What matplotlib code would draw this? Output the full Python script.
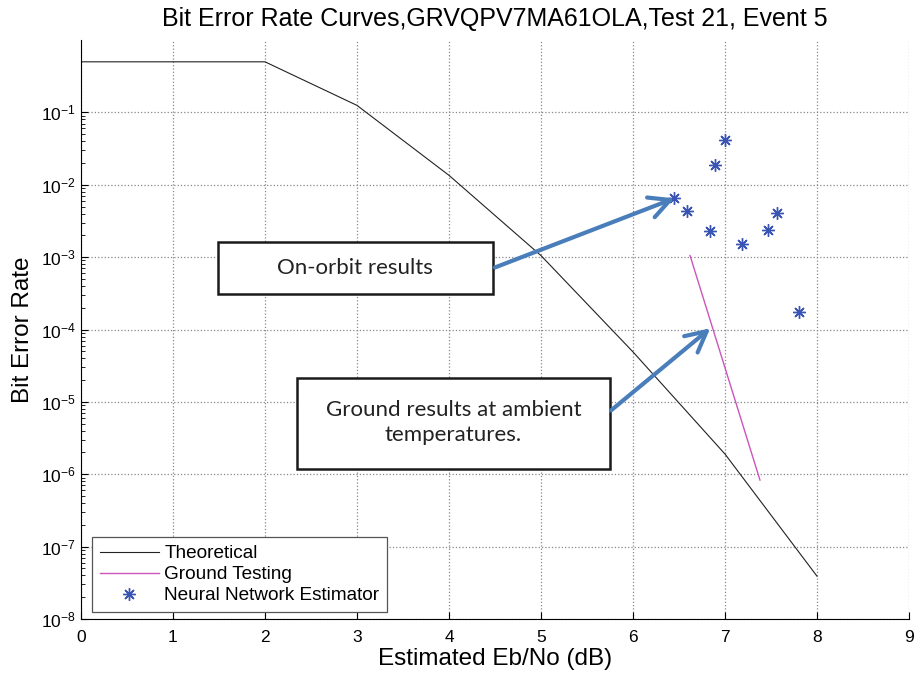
"""Bit error rate curves with on-orbit and ground test annotations."""

import matplotlib

matplotlib.use("Agg")
import matplotlib.pyplot as plt
from matplotlib.patches import Rectangle
from matplotlib.ticker import FixedLocator, NullFormatter

# Theoretical BER curve (piecewise in log space)
theory_ebno = [0, 1, 2, 3, 4, 5, 6, 7, 8]
theory_ber = [0.5, 0.5, 0.5, 0.125, 0.0135, 1.05e-3, 4.9e-5, 1.9e-6, 3.9e-8]

# Ground testing line
ground_ebno = [6.62, 7.38]
ground_ber = [1.05e-3, 8.3e-7]

# Neural network estimator points (on-orbit)
nn_ebno = [7.00, 6.89, 6.45, 6.59, 6.84, 7.18, 7.47, 7.56, 7.80]
nn_ber = [0.042, 0.0185, 6.5e-3, 4.3e-3, 2.3e-3, 1.53e-3, 2.4e-3, 4.07e-3, 1.75e-4]

xticks = list(range(0, 10))
yticks = [1e-8, 1e-7, 1e-6, 1e-5, 1e-4, 1e-3, 1e-2, 1e-1]

plt.rcParams["font.family"] = ["Liberation Sans", "DejaVu Sans"]

fig = plt.figure(figsize=(9.17, 6.75), dpi=100)
ax = fig.add_axes([0.0883, 0.083, 0.903, 0.8577])

ax.semilogy(theory_ebno, theory_ber, color="#222222", linewidth=0.8,
            label="Theoretical")
ax.semilogy(ground_ebno, ground_ber, color="#cc55bb", linewidth=1.0,
            label="Ground Testing")
ax.semilogy(nn_ebno, nn_ber, linestyle="none", marker=(8, 2, 0),
            markersize=9, markeredgewidth=1.0, color="#3a54b4",
            label="Neural Network Estimator")

ax.set_xlim(0, 9)
ax.set_ylim(1e-8, 1)
ax.set_xticks(xticks)
ax.set_yticks(yticks)
# minor ticks only between the labelled decades (none above 1e-1)
minor = [m * d for d in yticks[:-1] for m in range(2, 10)]
ax.yaxis.set_minor_locator(FixedLocator(minor))
ax.yaxis.set_minor_formatter(NullFormatter())
ax.tick_params(axis="both", which="both", direction="in", labelsize=12.5)
ax.tick_params(axis="y", which="major", length=5)
ax.tick_params(axis="y", which="minor", length=3)
ax.tick_params(axis="x", length=5, pad=8)
ax.grid(True, which="major", linestyle=":", color="#888888", linewidth=0.9)
ax.spines["top"].set_visible(False)
ax.spines["right"].set_visible(False)

ax.set_title("Bit Error Rate Curves,GRVQPV7MA61OLA,Test 21, Event 5",
             fontsize=18, pad=10)
ax.set_xlabel("Estimated Eb/No (dB)", fontsize=17.5, labelpad=2)
ax.set_ylabel("Bit Error Rate", fontsize=17.5, labelpad=5)

leg = ax.legend(loc="lower left", bbox_to_anchor=(0.0133, 0.012),
                borderaxespad=0, fontsize=13.7, fancybox=False,
                framealpha=1, edgecolor="#555555", handlelength=3.1,
                handletextpad=0.3, labelspacing=0.2, borderpad=0.4)
leg.get_frame().set_linewidth(0.9)

# Callout boxes
box_font = ["Lato", "DejaVu Sans"]
ax.add_patch(Rectangle((0.1655, 0.5613), 0.3321, 0.0897, transform=ax.transAxes,
                       facecolor="white", edgecolor="#1a1a1a", linewidth=1.8,
                       zorder=5))
ax.text(0.3314, 0.6064, "On-orbit results", transform=ax.transAxes,
        ha="center", va="center", fontsize=16, family=box_font,
        color="#222222", zorder=6)

ax.add_patch(Rectangle((0.2609, 0.2591), 0.378, 0.1571, transform=ax.transAxes,
                       facecolor="white", edgecolor="#1a1a1a", linewidth=1.8,
                       zorder=5))
ax.text(0.4499, 0.339, "Ground results at ambient\ntemperatures.",
        transform=ax.transAxes, ha="center", va="center", fontsize=16,
        family=box_font, color="#222222", linespacing=1.33, zorder=6)

arrow_style = dict(arrowstyle="->,head_length=0.45,head_width=0.23",
                   color="#4a7ebb", linewidth=3, mutation_scale=33,
                   shrinkA=0, shrinkB=0)
ax.annotate("", xy=(nn_ebno[2], nn_ber[2]), xycoords="data",
            xytext=(4.5, 7.2e-4), textcoords="data",
            arrowprops=arrow_style, zorder=7)
ax.annotate("", xy=(6.84, 1.04e-4), xycoords="data",
            xytext=(5.76, 7.6e-6), textcoords="data",
            arrowprops=arrow_style, zorder=7)

fig.savefig("out.png", dpi=100)
